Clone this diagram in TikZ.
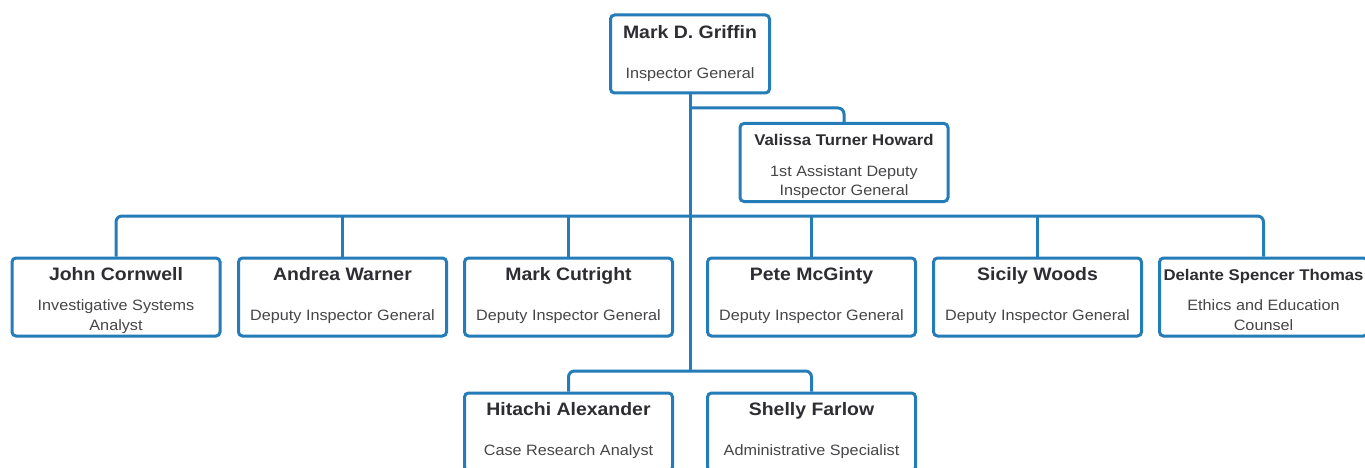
\documentclass[tikz,border=0pt]{standalone}
\usepackage{fontspec}
\setmainfont{Liberation Sans}[FakeStretch=1.08]
\definecolor{lineblue}{RGB}{36,124,184}
\definecolor{txtdark}{RGB}{45,45,50}
\definecolor{txtgray}{RGB}{70,70,72}
\begin{document}
\begin{tikzpicture}[x=1pt,y=-1pt,
  box/.style={draw=lineblue,line width=3pt,rounded corners=4pt,fill=white,minimum width=208pt,minimum height=78pt,inner sep=0pt},
  nm/.style={anchor=base,text=txtdark,font=\fontsize{18}{20}\selectfont\bfseries,inner sep=0pt},
  nms/.style={anchor=base,text=txtdark,font=\fontsize{15.5}{18}\selectfont\bfseries,inner sep=0pt},
  tt/.style={anchor=base,text=txtgray,font=\fontsize{15}{19.5}\selectfont,inner sep=0pt},
  conn/.style={draw=lineblue,line width=3pt,rounded corners=6pt}]
\useasboundingbox (0,0) rectangle (1365,468);
\fill[white] (0,0) rectangle (1365,468);

% boxes
\node[box,minimum width=159pt] (griffin) at (690,54) {};
\node[box] (valissa) at (844,162.5) {};
\node[box] (john) at (116,297) {};
\node[box] (andrea) at (342.5,297) {};
\node[box] (markc) at (568.5,297) {};
\node[box] (pete) at (811.5,297) {};
\node[box] (sicily) at (1037.5,297) {};
\node[box] (delante) at (1263.5,297) {};
\node[box] (hitachi) at (568.5,432) {};
\node[box] (shelly) at (811.5,432) {};

% junctions
\coordinate (jv) at (690,108);
\coordinate (j1) at (690,216);
\coordinate (j2) at (690,371);

% connectors
\draw[conn] (griffin.south) -- (j2);
\draw[conn] (jv) -| (valissa.north);
\draw[conn] (john.north) |- (j1) -| (delante.north);
\foreach \b in {andrea,markc,pete,sicily}{
  \draw[conn] (\b.north |- j1) -- (\b.north);
}
\draw[conn] (hitachi.north) |- (j2) -| (shelly.north);

% texts
\node[nm] (griffin-n) at (690,38.5) {Mark D. Griffin};
\node[tt] (griffin-t) at (690,78.4) {Inspector General};

\node[nms] (valissa-n) at (844,146) {Valissa Turner Howard};
\node[tt] (valissa-t1) at (844,176.4) {1st Assistant Deputy};
\node[tt] (valissa-t2) at (844,195.6) {Inspector General};

\node[nm] (john-n) at (116,280.5) {John Cornwell};
\node[tt] (john-t1) at (116,310.8) {Investigative Systems};
\node[tt] (john-t2) at (116,330.4) {Analyst};

\node[nm] (andrea-n) at (342.5,280.5) {Andrea Warner};
\node[tt] (andrea-t) at (342.5,320.4) {Deputy Inspector General};

\node[nm] (markc-n) at (568.5,280.5) {Mark Cutright};
\node[tt] (markc-t) at (568.5,320.4) {Deputy Inspector General};

\node[nm] (pete-n) at (811.5,280.5) {Pete McGinty};
\node[tt] (pete-t) at (811.5,320.4) {Deputy Inspector General};

\node[nm] (sicily-n) at (1037.5,280.5) {Sicily Woods};
\node[tt] (sicily-t) at (1037.5,320.4) {Deputy Inspector General};

\node[nms] (delante-n) at (1263.5,280) {Delante Spencer Thomas};
\node[tt] (delante-t1) at (1263.5,310.8) {Ethics and Education};
\node[tt] (delante-t2) at (1263.5,330.4) {Counsel};

\node[nm] (hitachi-n) at (568.5,415.5) {Hitachi Alexander};
\node[tt] (hitachi-t) at (568.5,455.4) {Case Research Analyst};

\node[nm] (shelly-n) at (811.5,415.5) {Shelly Farlow};
\node[tt] (shelly-t) at (811.5,455.4) {Administrative Specialist};
\end{tikzpicture}
\end{document}
